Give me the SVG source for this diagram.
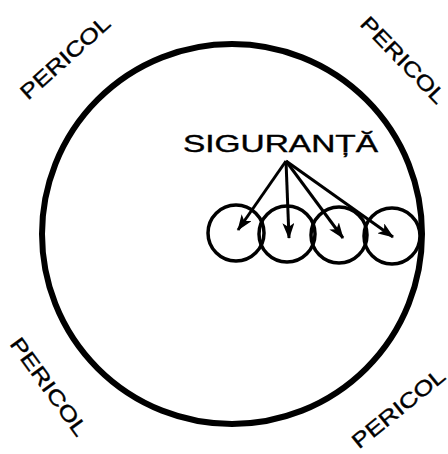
<svg xmlns="http://www.w3.org/2000/svg" width="448" height="454" viewBox="0 0 448 454">
<defs>
<style>
.lbl{font-family:"Liberation Sans",Arial,sans-serif;font-size:21px;fill:#000;stroke:#000;stroke-width:0.4;text-anchor:middle}
.big{fill:none;stroke:#000;stroke-width:6}
.small{fill:none;stroke:#000;stroke-width:3.5}
.arr{stroke:#000;stroke-width:3;fill:none;marker-end:url(#ah)}
</style>
<marker id="ah" viewBox="0 0 16 12" refX="15" refY="6" markerWidth="16" markerHeight="12" markerUnits="userSpaceOnUse" orient="auto">
<path d="M0,0 L16,6 L0,12 L4,6 Z" fill="#000"/>
</marker>
</defs>
<rect width="448" height="454" fill="#fff"/>
<g id="zone">
<circle class="big" cx="232" cy="234" r="190"/>
</g>
<g id="pericol-tl"><text class="lbl" transform="translate(70,63) rotate(-42)" textLength="113" lengthAdjust="spacingAndGlyphs">PERICOL</text></g>
<g id="pericol-tr"><text class="lbl" transform="translate(398,65) rotate(46)" textLength="112" lengthAdjust="spacingAndGlyphs">PERICOL</text></g>
<g id="pericol-bl"><text class="lbl" transform="translate(43,391) rotate(54)" textLength="116" lengthAdjust="spacingAndGlyphs">PERICOL</text></g>
<g id="pericol-br"><text class="lbl" transform="translate(403,414) rotate(-39)" textLength="113" lengthAdjust="spacingAndGlyphs">PERICOL</text></g>
<g id="siguranta"><text x="183" y="152" font-family="Liberation Sans, Arial, sans-serif" font-size="24" stroke="#000" stroke-width="0.4" textLength="195" lengthAdjust="spacingAndGlyphs">SIGURANȚĂ</text></g>
<g id="c1"><circle class="small" cx="236" cy="233" r="28"/></g>
<g id="c2"><circle class="small" cx="287" cy="234" r="28"/></g>
<g id="c3"><circle class="small" cx="339" cy="235" r="28"/></g>
<g id="c4"><circle class="small" cx="392" cy="236" r="28"/></g>
<g id="connectors">
<path class="arr" d="M286,161 L238,230"/>
<path class="arr" d="M286,161 L289,238"/>
<path class="arr" d="M286,161 L343,238"/>
<path class="arr" d="M286,161 L393,237"/>
</g>
</svg>
